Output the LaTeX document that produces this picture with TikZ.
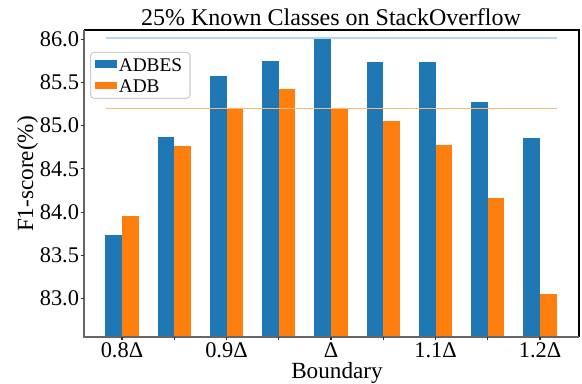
\documentclass[tikz,border=0pt]{standalone}
\usepackage{fontspec}
\setmainfont{Liberation Serif}
\definecolor{adbesblue}{RGB}{31,119,180}
\definecolor{adborange}{RGB}{255,127,14}
\tikzset{every picture/.style={line width=0.75pt}}
\tikzset{
  barblue/.style={fill=adbesblue,draw=none},
  barorange/.style={fill=adborange,draw=none},
  ticklabel/.style={inner sep=0pt,font=\fontsize{16.8}{18}\selectfont},
  axislabel/.style={inner sep=0pt,font=\fontsize{17.4}{19}\selectfont},
  legendtext/.style={inner sep=0pt,anchor=west,font=\fontsize{14.5}{16}\selectfont},
  tickmark/.style={draw=black!80,line width=0.8pt}
}

\begin{document}
\begin{tikzpicture}[x=0.75pt,y=0.75pt,yscale=-1,xscale=1]
\useasboundingbox (0,0) rectangle (582,383);

%Shape: Bars ADBES
\fill [barblue] (105.4,234.56) rectangle (122,336.7);
\fill [barblue] (157.65,136.93) rectangle (174.25,336.7);
\fill [barblue] (209.9,76.45) rectangle (226.5,336.7);
\fill [barblue] (262.15,60.9) rectangle (278.75,336.7);
\fill [barblue] (314.4,37.57) rectangle (331,336.7);
\fill [barblue] (366.65,61.76) rectangle (383.25,336.7);
\fill [barblue] (418.9,61.76) rectangle (435.5,336.7);
\fill [barblue] (471.15,102.37) rectangle (487.75,336.7);
\fill [barblue] (523.4,137.8) rectangle (540,336.7);
%Shape: Bars ADB
\fill [barorange] (122,216.42) rectangle (138.6,336.7);
\fill [barorange] (174.25,145.57) rectangle (190.85,336.7);
\fill [barorange] (226.5,107.56) rectangle (243.1,336.7);
\fill [barorange] (278.75,89.41) rectangle (295.35,336.7);
\fill [barorange] (331,108.42) rectangle (347.6,336.7);
\fill [barorange] (383.25,120.52) rectangle (399.85,336.7);
\fill [barorange] (435.5,144.71) rectangle (452.1,336.7);
\fill [barorange] (487.75,198.28) rectangle (504.35,336.7);
\fill [barorange] (540,294.18) rectangle (556.6,336.7);

%Straight Lines: best values
\coordinate (hbS) at (106,37.57);
\coordinate (hbE) at (556.5,37.57);
\coordinate (hoS) at (106,108.42);
\coordinate (hoE) at (556.5,108.42);
\draw [color=adbesblue!30,line width=1.6pt] (hbS) -- (hbE);
\draw [color=adborange!55] (hoS) -- (hoE);

%Shape: Axes frame
\draw [black,line width=0.9pt] (84,30) -- (579,30) -- (579,336.7);
\draw [black!60,line width=1.2pt] (84,30) -- (84,336.7) -- (579,336.7);

%Straight Lines: y ticks
\draw [tickmark] (80.5,39.3) -- (84,39.3);
\draw [tickmark] (80.5,82.5) -- (84,82.5);
\draw [tickmark] (80.5,125.7) -- (84,125.7);
\draw [tickmark] (80.5,168.9) -- (84,168.9);
\draw [tickmark] (80.5,212.1) -- (84,212.1);
\draw [tickmark] (80.5,255.3) -- (84,255.3);
\draw [tickmark] (80.5,298.5) -- (84,298.5);
%Straight Lines: x ticks
\draw [tickmark] (122,336.7) -- (122,340.2);
\draw [tickmark] (174.25,336.7) -- (174.25,340.2);
\draw [tickmark] (226.5,336.7) -- (226.5,340.2);
\draw [tickmark] (278.75,336.7) -- (278.75,340.2);
\draw [tickmark] (331,336.7) -- (331,340.2);
\draw [tickmark] (383.25,336.7) -- (383.25,340.2);
\draw [tickmark] (435.5,336.7) -- (435.5,340.2);
\draw [tickmark] (487.75,336.7) -- (487.75,340.2);
\draw [tickmark] (540,336.7) -- (540,340.2);

% Text Node
\node (yt860) [ticklabel,anchor=east] at (79.5,39.3) {86.0};
% Text Node
\node (yt855) [ticklabel,anchor=east] at (79.5,82.5) {85.5};
% Text Node
\node (yt850) [ticklabel,anchor=east] at (79.5,125.7) {85.0};
% Text Node
\node (yt845) [ticklabel,anchor=east] at (79.5,168.9) {84.5};
% Text Node
\node (yt840) [ticklabel,anchor=east] at (79.5,212.1) {84.0};
% Text Node
\node (yt835) [ticklabel,anchor=east] at (79.5,255.3) {83.5};
% Text Node
\node (yt830) [ticklabel,anchor=east] at (79.5,298.5) {83.0};
% Text Node
\node (xt08) [ticklabel,anchor=base] at (122,357.6) {0.8Δ};
% Text Node
\node (xt09) [ticklabel,anchor=base] at (226.5,357.6) {0.9Δ};
% Text Node
\node (xt10) [ticklabel,anchor=base] at (331,357.6) {Δ};
% Text Node
\node (xt11) [ticklabel,anchor=base] at (435.5,357.6) {1.1Δ};
% Text Node
\node (xt12) [ticklabel,anchor=base] at (540,357.6) {1.2Δ};

% Text Node
\node (title) [axislabel,anchor=base,font=\fontsize{18}{20}\selectfont] at (331,25) {25\% Known Classes on StackOverflow};
% Text Node
\node (xlabel) [axislabel,anchor=base] at (337,378) {Boundary};
% Text Node
\node (ylabel) [axislabel,anchor=base,rotate=90] at (33,174) {F1-score(\%)};

%Shape: Legend
\draw [draw=black!20,fill=white,rounded corners=2.5pt,line width=0.8pt] (90.7,52.3) rectangle (190,98.3);
\fill [barblue] (95,60) rectangle (117.3,67.7);
\fill [barorange] (95,81.7) rectangle (117.3,89.3);
% Text Node
\node (legADBES) [legendtext] at (118.3,64.8) {ADBES};
% Text Node
\node (legADB) [legendtext] at (118.3,86.6) {ADB};

\end{tikzpicture}
\end{document}
